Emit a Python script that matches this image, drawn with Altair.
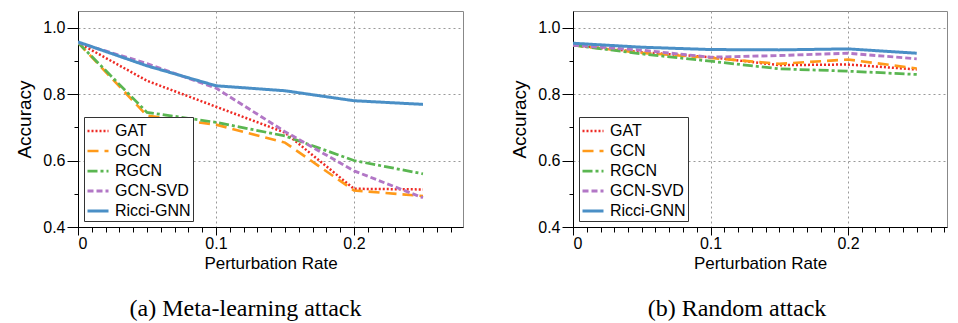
import altair as alt
import pandas as pd

rates = [0.0, 0.05, 0.1, 0.15, 0.2, 0.25]
models = ["GAT", "GCN", "RGCN", "GCN-SVD", "Ricci-GNN"]

meta_gat = [0.955, 0.840, 0.762, 0.684, 0.515, 0.513]
meta_gcn = [0.955, 0.735, 0.708, 0.654, 0.510, 0.493]
meta_rgcn = [0.955, 0.745, 0.715, 0.674, 0.600, 0.560]
meta_svd = [0.955, 0.892, 0.818, 0.687, 0.569, 0.488]
meta_ricci = [0.957, 0.885, 0.825, 0.810, 0.780, 0.769]

rand_gat = [0.947, 0.926, 0.911, 0.887, 0.889, 0.874]
rand_gcn = [0.947, 0.924, 0.909, 0.891, 0.904, 0.877]
rand_rgcn = [0.947, 0.921, 0.899, 0.876, 0.869, 0.859]
rand_svd = [0.947, 0.932, 0.911, 0.916, 0.923, 0.906]
rand_ricci = [0.953, 0.941, 0.934, 0.933, 0.936, 0.923]

colors = ["#ee2a24", "#ff9a1a", "#5ab651", "#b277c6", "#4a8fc6"]
dashes = [[2, 2], [11, 6], [10, 3, 3, 3], [6, 3], [1, 0]]
widths = [2.5, 3, 3, 3, 4]

x_ticks = [round(i * 0.01, 2) for i in range(0, 29)]
y_ticks = [0.4, 0.5, 0.6, 0.7, 0.8, 0.9, 1.0]


def frame(series):
    rows = []
    for m, vals in zip(models, series):
        for r, v in zip(rates, vals):
            rows.append({"rate": r, "acc": v, "model": m})
    return pd.DataFrame(rows)


major_x = "abs(round(datum.value*100)) % 10 == 0"
major_y = "abs(round(datum.value*10)) % 2 == 0"


def panel(df, caption, width, xmax, dx):
    return alt.Chart(df).mark_line(clip=True, strokeCap="butt").encode(
        x=alt.X("rate:Q",
                scale=alt.Scale(domain=[0, xmax], nice=False, zero=False),
                axis=alt.Axis(values=x_ticks, title="Perturbation Rate",
                              labelExpr="abs(round(datum.value*100)) % 10 == 0 ? (datum.value == 0 ? '0' : format(datum.value, '.1f')) : ''",
                              tickSize={"condition": {"test": major_x, "value": 8}, "value": 5},
                              gridOpacity={"condition": {"test": major_x, "value": 1}, "value": 0},
                              titleFontSize=17, titlePadding=4, labelPadding=0)),
        y=alt.Y("acc:Q",
                scale=alt.Scale(domain=[0.4, 1.05], nice=False, zero=False),
                axis=alt.Axis(values=y_ticks, title="Accuracy",
                              labelExpr="abs(round(datum.value*10)) % 2 == 0 ? format(datum.value, '.1f') : ''",
                              tickSize={"condition": {"test": major_y, "value": 11}, "value": 4},
                              gridOpacity={"condition": {"test": major_y, "value": 1}, "value": 0},
                              titleFontSize=19, titlePadding=8, labelPadding=2)),
        color=alt.Color("model:N", scale=alt.Scale(domain=models, range=colors),
                        legend=alt.Legend(title=None)),
        strokeDash=alt.StrokeDash("model:N", scale=alt.Scale(domain=models, range=dashes),
                                  legend=alt.Legend(title=None)),
        strokeWidth=alt.StrokeWidth("model:N", scale=alt.Scale(domain=models, range=widths),
                                    legend=alt.Legend(title=None)),
    ).properties(
        width=width, height=216,
        title=alt.TitleParams(caption, orient="bottom", font="Liberation Serif",
                              fontSize=24, fontWeight="normal", color="#000",
                              anchor="middle", frame="group", dx=dx, offset=26),
    )


left = panel(frame([meta_gat, meta_gcn, meta_rgcn, meta_svd, meta_ricci]),
             "(a) Meta-learning attack", 385, 0.279, -25)
right = panel(frame([rand_gat, rand_gcn, rand_rgcn, rand_svd, rand_ricci]),
              "(b) Random attack", 374, 0.272, -23)

chart = alt.hconcat(left, right, spacing=46).resolve_scale(
    color="independent", strokeDash="independent", strokeWidth="independent"
).resolve_legend(
    color="independent", strokeDash="independent", strokeWidth="independent"
).properties(
    padding={"left": 7, "top": 2, "right": 0, "bottom": 0}
).configure_view(
    stroke="#888", strokeWidth=1
).configure_axis(
    labelFont="Liberation Sans", titleFont="Liberation Sans", labelFontSize=16,
    labelColor="#000", titleColor="#000", titleFontWeight="normal",
    domainColor="#000", tickColor="#000", gridColor="#999", gridDash=[2, 3],
).configure_legend(
    orient="bottom-left", offset=6, strokeColor="#333", fillColor="#fff",
    padding=2, labelFont="Liberation Sans", labelFontSize=16, labelColor="#000",
    symbolType="stroke", symbolSize=441, symbolStrokeWidth=3, rowPadding=-5,
    labelOffset=5,
)

chart.save("out.html", embed_options={"renderer": "svg", "actions": False})
